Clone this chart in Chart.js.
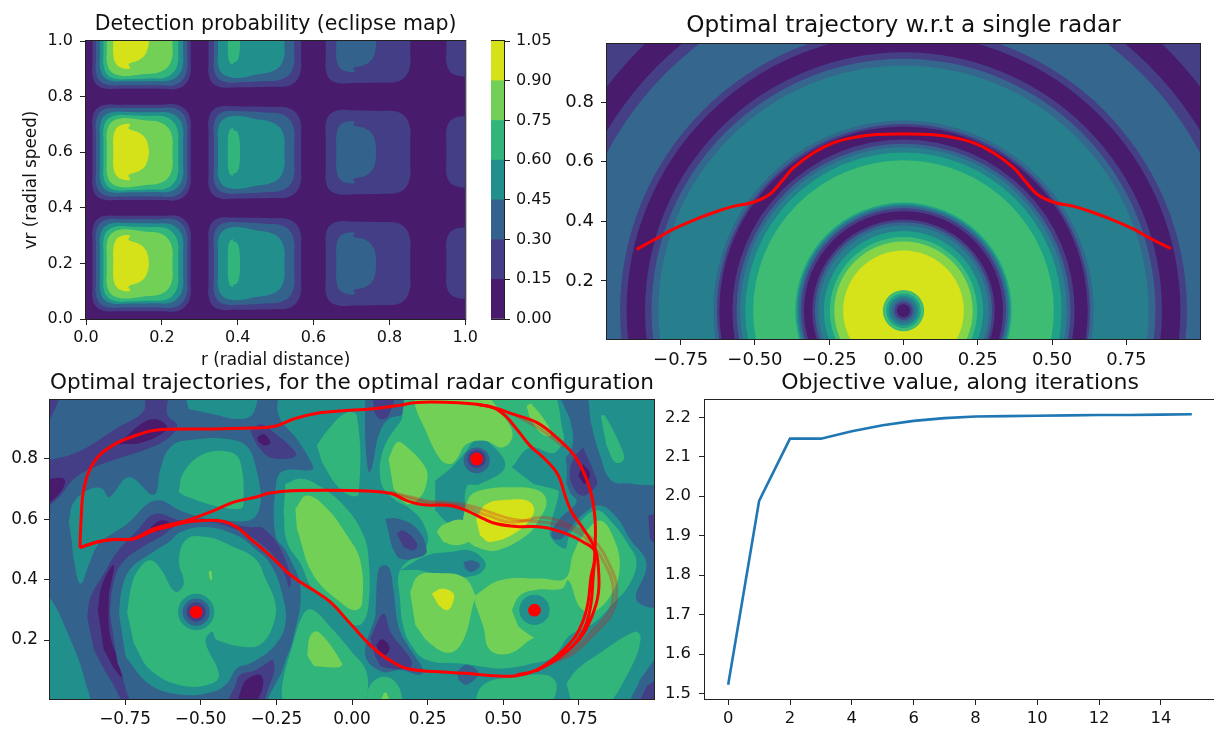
<!DOCTYPE html>
<html>
<head>
<meta charset="utf-8">
<title>Radar trajectories</title>
<script src="https://cdn.jsdelivr.net/npm/chart.js@4"></script>
<style>
    body { margin: 0; background: #fff; overflow: hidden; }
    canvas { position: absolute; }
</style>
</head>
<body>
<canvas id="eclipseMap"></canvas>
<canvas id="eclipseBar"></canvas>
<canvas id="singleRadar"></canvas>
<canvas id="radarConfig"></canvas>
<canvas id="objective"></canvas>
<script>
// Colours of the contour levels
const levelColors = ['#481b6d', '#433e85', '#33638d', '#21908d', '#31b57b', '#73d056', '#d5e21a'];
const ringColors = { d: '#481b6d', a: '#453f85', b: '#35668e', c: '#277f8e', e: '#1fa187', f: '#3fbc73', g: '#86d549', h: '#d6e21a' };

// Tick labels
const unitTicks = [0, 0.2, 0.4, 0.6, 0.8, 1];
const barTicks = [0, 0.15, 0.3, 0.45, 0.6, 0.75, 0.9, 1.05];
const xTicks = [-0.75, -0.5, -0.25, 0, 0.25, 0.5, 0.75];
const yTicksRadar = [0.2, 0.4, 0.6, 0.8];
const iterTicks = [0, 2, 4, 6, 8, 10, 12, 14];
const objectiveTicks = [1.5, 1.6, 1.7, 1.8, 1.9, 2.0, 2.1, 2.2];

// Objective value along iterations
const iterations = [0, 1, 2, 3, 4, 5, 6, 7, 8, 9, 10, 11, 12, 13, 14, 15];
const objectiveValues = [1.522, 1.988, 2.146, 2.146, 2.165, 2.18, 2.191, 2.198, 2.202, 2.203, 2.204, 2.205, 2.206, 2.206, 2.207, 2.208];

// Eclipse map cells: level, r from, r to, corner taper, then vr bands of the three rows
const eclipseCells = [
    [1, 0.017, 0.276, 0, [0.028, 0.371], [0.428, 0.771], [0.828, 1.171]],
    [2, 0.026, 0.267, 0, [0.041, 0.359], [0.441, 0.759], [0.841, 1.159]],
    [3, 0.037, 0.256, 0.003, [0.055, 0.345], [0.455, 0.745], [0.855, 1.145]],
    [4, 0.046, 0.243, 0.005, [0.063, 0.333], [0.463, 0.733], [0.863, 1.133]],
    [5, 0.055, 0.228, 0.012, [0.075, 0.321], [0.475, 0.721], [0.875, 1.121]],
    [6, 0.072, 0.165, 0.03, [0.102, 0.3], [0.502, 0.7], [0.902, 1.1]],
    [1, 0.323, 0.567, 0.005, [0.033, 0.365], [0.433, 0.765], [0.833, 1.165]],
    [2, 0.337, 0.549, 0.01, [0.051, 0.348], [0.451, 0.748], [0.851, 1.148]],
    [3, 0.348, 0.523, 0.02, [0.069, 0.329], [0.469, 0.729], [0.869, 1.129]],
    [4, 0.374, 0.406, 0.01, [0.117, 0.285], [0.517, 0.685], [0.917, 1.085]],
    [1, 0.632, 0.855, 0.005, [0.048, 0.351], [0.448, 0.751], [0.848, 1.151]],
    [2, 0.66, 0.764, 0.025, [0.09, 0.31], [0.49, 0.71], [0.89, 1.11]],
    [1, 0.95, 1.1, 0, [0.074, 0.328], [0.474, 0.728], [0.874, 1.128]]
];

// Single radar: rings around the radar, outermost first (radius, colour)
const radarCentre = [0, 0.1];
const ringRadii = [1.9, 1.251, 1.168, 1.131, 0.954, 0.932, 0.87, 0.848, 0.825, 0.64, 0.628, 0.62, 0.576, 0.562, 0.55, 0.5325, 0.506,
    0.364, 0.358, 0.352, 0.345, 0.335, 0.307, 0.298, 0.287, 0.268, 0.248, 0.233, 0.203, 0.0695, 0.058, 0.049, 0.039, 0.031, 0.022];
const ringLevels = ['a', 'd', 'a', 'b', 'a', 'd', 'a', 'b', 'c', 'b', 'a', 'd', 'a', 'b', 'c', 'e', 'f',
    'e', 'c', 'b', 'a', 'd', 'a', 'b', 'c', 'e', 'f', 'g', 'h', 'f', 'e', 'c', 'b', 'a', 'd'];
const singleTrajX = [-0.898, -0.83, -0.775, -0.696, -0.629, -0.573, -0.506, -0.45, -0.41, -0.371, -0.304, -0.2365, -0.158, -0.091, 0,
    0.091, 0.158, 0.2365, 0.304, 0.371, 0.41, 0.45, 0.506, 0.573, 0.629, 0.696, 0.775, 0.83, 0.9];
const singleTrajY = [0.306, 0.343, 0.3735, 0.408, 0.433, 0.45, 0.464, 0.491, 0.534, 0.579, 0.629, 0.663, 0.683, 0.691, 0.693,
    0.691, 0.683, 0.663, 0.629, 0.579, 0.534, 0.491, 0.464, 0.45, 0.433, 0.408, 0.3735, 0.343, 0.308];

// Optimal configuration map: contour regions in painting order (level, outline)
const configRegions = [
    [2, [[-1.5, -1], [1.5, -1], [1.5, 1.5], [-1.5, 1.5]]],
    [1, [[-1.03, 1.03], [-0.963, 1.03], [-1.03, 0.865]]],
    [1, [[-1.03, 0.79], [-0.908, 0.822], [-0.782, 0.899], [-0.688, 0.959], [-0.683, 1.03], [-0.611, 1.03], [-0.611, 0.948], [-0.578, 0.91], [-0.611, 0.866], [-0.677, 0.833], [-0.776, 0.8], [-0.853, 0.772], [-0.919, 0.734], [-0.963, 0.679], [-1.03, 0.62]]],
    [0, [[-1.03, 0.728], [-0.952, 0.734], [-0.963, 0.69], [-1.03, 0.63]]],
    [0, [[-0.77, 0.849], [-0.699, 0.915], [-0.65, 0.932], [-0.611, 0.904], [-0.65, 0.871], [-0.71, 0.849]]],
    [3, [[-0.556, 1.03], [-0.325, 1.03], [-0.325, 0.954], [-0.369, 0.932], [-0.457, 0.948], [-0.54, 0.965]]],
    [3, [[-0.936, 0.591], [-0.919, 0.657], [-0.864, 0.701], [-0.825, 0.701], [-0.803, 0.673], [-0.737, 0.739], [-0.655, 0.681], [-0.633, 0.767], [-0.605, 0.833], [-0.556, 0.86], [-0.38, 0.86], [-0.325, 0.8], [-0.316, 0.613], [-0.457, 0.6], [-0.556, 0.624], [-0.65, 0.662], [-0.743, 0.585], [-0.836, 0.519], [-0.864, 0.464], [-0.897, 0.387], [-0.919, 0.464], [-0.925, 0.52]]],
    [3, [[-1.03, 0.36], [-0.996, 0.3375], [-0.93, 0.2], [-0.886, 0.079], [-0.87, -0.03], [-0.963, -0.03], [-1.03, 0.05]]],
    [3, [[-0.242, 1.03], [-0.242, 0.943], [-0.182, 0.866], [-0.132, 0.783], [-0.132, 0.764], [-0.226, 0.761], [-0.25, 0.723], [-0.253, 0.547], [-0.215, 0.49], [-0.17, 0.37], [-0.193, 0.211], [-0.226, 0.112], [-0.264, -0.03], [1.03, -0.03], [1.03, 1.03]]],
    [2, [[0.676, 1.03], [0.764, 1.03], [0.792, 0.91], [0.82, 0.811], [0.858, 0.728], [0.929, 0.717], [1.03, 0.69], [1.03, 0.321], [0.94, 0.332], [0.973, 0.453], [0.918, 0.536], [0.874, 0.607], [0.82, 0.646], [0.765, 0.618], [0.72, 0.568], [0.693, 0.536], [0.665, 0.536], [0.66, 0.558], [0.687, 0.602], [0.742, 0.657], [0.72, 0.69], [0.693, 0.783], [0.72, 0.822], [0.731, 0.866], [0.72, 0.932]]],
    [2, [[0.044, 1.03], [0.044, 0.866], [0.055, 0.756], [0.066, 0.772], [0.088, 0.877], [0.121, 0.932], [0.176, 0.954], [0.176, 1.03]]],
    [1, [[0.066, 1.03], [0.137, 1.03], [0.121, 0.943], [0.093, 0.932], [0.074, 0.954]]],
    [2, [[0.082, 0.398], [0.093, 0.442], [0.121, 0.442], [0.137, 0.365], [0.154, 0.244], [0.187, 0.178], [0.236, 0.101], [0.225, 0.085], [0.159, 0.101], [0.099, 0.095], [0.044, 0.15], [0.077, 0.277]]],
    [2, [[0.998, 0.134], [1.03, -0.03], [0.918, -0.03], [0.951, 0.068]]],
    [1, [[0.979, 0.613], [1.03, 0.615], [1.03, 0.497], [0.984, 0.536]]],
    [1, [[1.03, 0.084], [1.03, -0.03], [0.946, -0.03], [0.973, 0.046]]],
    [1, [[0.764, 0.838], [0.808, 0.734], [0.808, 0.712], [0.764, 0.678], [0.731, 0.706], [0.72, 0.761], [0.737, 0.811]]],
    [0, [[0.764, 0.783], [0.786, 0.75], [0.77, 0.717], [0.748, 0.745]]],
    [1, [[-0.875, 0.277], [-0.864, 0.343], [-0.82, 0.42], [-0.776, 0.4915], [-0.71, 0.563], [-0.65, 0.618], [-0.567, 0.596], [-0.457, 0.5905], [-0.336, 0.574], [-0.292, 0.5685], [-0.231, 0.4915], [-0.204, 0.376], [-0.259, 0.398], [-0.314, 0.189], [-0.259, 0.1285], [-0.27, 0.057], [-0.325, -0.03], [-0.721, -0.03], [-0.798, 0.068], [-0.853, 0.167]]],
    [0, [[-0.84, 0.299], [-0.825, 0.387], [-0.787, 0.4475], [-0.804, 0.332], [-0.793, 0.189], [-0.737, 0.0735], [-0.77, 0.0845], [-0.82, 0.167]]],
    [0, [[-0.666, 0.574], [-0.633, 0.596], [-0.605, 0.591], [-0.616, 0.574], [-0.644, 0.558]]],
    [2, [[-0.8, 0.288], [-0.79, 0.38], [-0.76, 0.455], [-0.69, 0.51], [-0.62, 0.55], [-0.57, 0.585], [-0.479, 0.592], [-0.38, 0.565], [-0.31, 0.525], [-0.245, 0.46], [-0.205, 0.36], [-0.19, 0.255], [-0.23, 0.17], [-0.32, 0.1], [-0.37, 0.085], [-0.39, 0.04], [-0.44, -0.03], [-0.7, -0.03], [-0.775, 0.125]]],
    [3, [[-0.77, 0.288], [-0.76, 0.37], [-0.732, 0.4365], [-0.666, 0.486], [-0.605, 0.5245], [-0.567, 0.5575], [-0.479, 0.574], [-0.38, 0.5465], [-0.32, 0.5025], [-0.27, 0.453], [-0.231, 0.354], [-0.22, 0.255], [-0.259, 0.178], [-0.336, 0.123], [-0.38, 0.1065], [-0.413, 0.057], [-0.457, 0.0295], [-0.556, 0.0185], [-0.666, 0.0515], [-0.748, 0.145]]],
    [0, [[-0.385, -0.03], [-0.358, 0.057], [-0.336, 0.077], [-0.303, 0.0845], [-0.294, 0.0515], [-0.325, -0.03]]],
    [4, [[-0.743, 0.293], [-0.727, 0.387], [-0.699, 0.442], [-0.666, 0.464], [-0.633, 0.4365], [-0.584, 0.36], [-0.556, 0.387], [-0.572, 0.464], [-0.545, 0.5355], [-0.479, 0.541], [-0.402, 0.5135], [-0.32, 0.4695], [-0.286, 0.4035], [-0.253, 0.321], [-0.259, 0.255], [-0.292, 0.1945], [-0.336, 0.176], [-0.446, 0.2], [-0.462, 0.2275], [-0.484, 0.1945], [-0.44, 0.09], [-0.457, 0.059], [-0.556, 0.048], [-0.666, 0.101], [-0.721, 0.189]]],
    [5, [[-0.474, 0.4255], [-0.466, 0.431], [-0.463, 0.398], [-0.47, 0.4035]]],
    [4, [[-0.573, 0.69], [-0.556, 0.756], [-0.49, 0.816], [-0.402, 0.822], [-0.369, 0.789], [-0.358, 0.657], [-0.369, 0.635], [-0.457, 0.646], [-0.556, 0.679]]],
    [1, [[-0.336, 0.893], [-0.303, 0.915], [-0.259, 0.888], [-0.187, 0.822], [-0.193, 0.805], [-0.27, 0.805], [-0.314, 0.844]]],
    [0, [[-0.314, 0.871], [-0.292, 0.882], [-0.27, 0.855], [-0.286, 0.844], [-0.308, 0.855]]],
    [4, [[-0.22, 0.717], [-0.17, 0.734], [-0.11, 0.712], [-0.022, 0.64], [0.038, 0.547], [0.055, 0.464], [0.055, 0.321], [0.033, 0.255], [-0.006, 0.255], [-0.044, 0.304], [-0.127, 0.365], [-0.17, 0.453], [-0.215, 0.525], [-0.226, 0.624]]],
    [5, [[-0.187, 0.635], [-0.149, 0.679], [-0.082, 0.635], [-0.017, 0.547], [0.027, 0.464], [0.033, 0.321], [0.011, 0.299], [-0.033, 0.321], [-0.127, 0.414], [-0.182, 0.569]]],
    [4, [[-0.116, 0.844], [-0.082, 0.893], [-0.022, 0.951], [0.016, 0.943], [0.022, 0.684], [-0.006, 0.679], [-0.05, 0.712], [-0.099, 0.789]]],
    [4, [[-0.226, -0.03], [-0.231, 0.046], [-0.198, 0.178], [-0.16, 0.288], [-0.132, 0.301], [-0.072, 0.244], [-0.006, 0.167], [0.049, 0.09], [0.044, -0.03]]],
    [5, [[-0.148, 0.15], [-0.137, 0.216], [-0.11, 0.227], [-0.033, 0.123], [-0.044, 0.11], [-0.126, 0.114]]],
    [4, [[0.044, -0.03], [0.06, 0.051], [0.11, 0.079], [0.154, 0.046], [0.17, -0.03]]],
    [5, [[0.088, -0.03], [0.11, 0.027], [0.132, -0.03]]],
    [1, [[0.06, 0.205], [0.104, 0.288], [0.127, 0.227], [0.198, 0.118], [0.104, 0.11], [0.077, 0.145]]],
    [0, [[0.08, 0.184], [0.099, 0.203], [0.124, 0.176], [0.11, 0.15], [0.088, 0.161]]],
    [4, [[0.176, 1.03], [0.643, 1.03], [0.698, 0.888], [0.698, 0.844], [0.682, 0.679], [0.671, 0.635], [0.654, 0.569], [0.66, 0.536], [0.704, 0.503], [0.715, 0.536], [0.737, 0.574], [0.808, 0.629], [0.863, 0.585], [0.918, 0.508], [0.94, 0.4585], [0.918, 0.387], [0.863, 0.321], [0.797, 0.255], [0.72, 0.216], [0.665, 0.145], [0.6, 0.123], [0.5, 0.106], [0.434, 0.112], [0.374, 0.121], [0.247, 0.134], [0.192, 0.189], [0.17, 0.244], [0.159, 0.332], [0.159, 0.431], [0.247, 0.514], [0.236, 0.585], [0.192, 0.635], [0.137, 0.668], [0.096, 0.723], [0.104, 0.833], [0.165, 0.932]]],
    [3, [[0.159, 0.431], [0.247, 0.48], [0.324, 0.4915], [0.39, 0.497], [0.44, 0.4585], [0.429, 0.4255], [0.379, 0.409], [0.324, 0.411], [0.214, 0.433]]],
    [2, [[0.368, 0.4585], [0.396, 0.464], [0.423, 0.4475], [0.396, 0.4255], [0.374, 0.4365]]],
    [2, [[0.346, 0.095], [0.379, 0.118], [0.418, 0.09], [0.379, 0.052], [0.352, 0.068]]],
    [3, [[0.528, 0.772], [0.588, 0.838], [0.665, 0.819], [0.698, 0.844], [0.704, 0.69], [0.665, 0.701], [0.6, 0.717]]],
    [3, [[0.275, 0.728], [0.324, 0.767], [0.374, 0.821], [0.407, 0.86], [0.451, 0.855], [0.506, 0.775], [0.423, 0.717], [0.379, 0.709], [0.368, 0.596], [0.324, 0.585], [0.275, 0.629]]],
    [5, [[0.209, 1.03], [0.209, 0.976], [0.236, 0.91], [0.291, 0.8], [0.324, 0.783], [0.346, 0.8], [0.379, 0.849], [0.44, 0.86], [0.495, 0.838], [0.528, 0.866], [0.522, 0.91], [0.434, 1.03]]],
    [5, [[0.121, 0.8], [0.149, 0.855], [0.176, 0.844], [0.242, 0.772], [0.247, 0.723], [0.22, 0.667], [0.181, 0.651], [0.137, 0.701]]],
    [5, [[0.577, 0.976], [0.594, 0.981], [0.66, 0.888], [0.649, 0.874], [0.616, 0.893], [0.588, 0.932]]],
    [5, [[0.363, 0.58], [0.385, 0.668], [0.423, 0.695], [0.522, 0.706], [0.616, 0.695], [0.643, 0.657], [0.616, 0.596], [0.577, 0.547], [0.478, 0.497], [0.412, 0.508], [0.374, 0.535]]],
    [5, [[0.28, 0.558], [0.302, 0.582], [0.368, 0.596], [0.39, 0.535], [0.346, 0.514], [0.302, 0.525]]],
    [6, [[0.41, 0.602], [0.445, 0.651], [0.522, 0.665], [0.588, 0.657], [0.6, 0.618], [0.544, 0.558], [0.456, 0.525], [0.423, 0.547]]],
    [2, [[0.11, 0.602], [0.154, 0.602], [0.215, 0.569], [0.247, 0.497], [0.225, 0.475], [0.159, 0.47], [0.132, 0.508]]],
    [1, [[0.148, 0.552], [0.17, 0.563], [0.215, 0.519], [0.203, 0.497], [0.17, 0.508]]],
    [5, [[0.192, 0.36], [0.22, 0.414], [0.28, 0.422], [0.368, 0.409], [0.407, 0.348], [0.401, 0.321], [0.368, 0.2], [0.324, 0.158], [0.258, 0.189], [0.209, 0.25]]],
    [6, [[0.264, 0.354], [0.297, 0.37], [0.335, 0.354], [0.33, 0.315], [0.313, 0.299], [0.286, 0.315]]],
    [5, [[0.407, 0.348], [0.489, 0.398], [0.621, 0.404], [0.704, 0.404], [0.731, 0.486], [0.764, 0.547], [0.82, 0.596], [0.863, 0.541], [0.885, 0.442], [0.852, 0.343], [0.778, 0.277], [0.687, 0.228], [0.6, 0.206], [0.522, 0.156], [0.456, 0.167], [0.434, 0.244], [0.407, 0.321]]],
    [4, [[0.528, 0.299], [0.555, 0.348], [0.61, 0.367], [0.693, 0.37], [0.715, 0.398], [0.748, 0.315], [0.778, 0.277], [0.72, 0.222], [0.654, 0.189], [0.6, 0.209], [0.55, 0.244]]],
    [4, [[0.401, -0.03], [0.434, 0.052], [0.544, 0.079], [0.643, 0.084], [0.676, 0.052], [0.654, -0.03]]],
    [4, [[0.709, 0.057], [0.742, 0.101], [0.808, 0.15], [0.935, 0.228], [0.954, 0.205], [0.918, 0.101], [0.825, -0.03], [0.731, -0.03]]],
    [4, [[0.822, 0.943], [0.836, 0.943], [0.896, 0.822], [0.896, 0.794], [0.869, 0.789], [0.841, 0.844]]]
];

// Wells around the radars (level, x, y, radius)
const radarWells = [
    [3, -0.515, 0.293, 0.06], [2, -0.515, 0.293, 0.045], [1, -0.515, 0.293, 0.032],
    [2, 0.412, 0.795, 0.043], [1, 0.412, 0.8, 0.03],
    [3, 0.603, 0.3, 0.05]
];
const radarX = [-0.515, 0.412, 0.603];
const radarY = [0.293, 0.8, 0.299];

// Trajectories on the configuration map
const outerTraj = [[-0.899, 0.506], [-0.895, 0.602], [-0.886, 0.701], [-0.853, 0.789], [-0.792, 0.844], [-0.71, 0.879], [-0.65, 0.895], [-0.479, 0.899], [-0.336, 0.902], [-0.259, 0.907], [-0.193, 0.932], [-0.116, 0.951], [-0.006, 0.961], [0.06, 0.965], [0.148, 0.976], [0.214, 0.987], [0.324, 0.987], [0.412, 0.981], [0.478, 0.967], [0.533, 0.948], [0.61, 0.921], [0.676, 0.871], [0.742, 0.8], [0.786, 0.701], [0.803, 0.602], [0.803, 0.503], [0.797, 0.409], [0.786, 0.299], [0.753, 0.211], [0.687, 0.145], [0.61, 0.101], [0.544, 0.082], [0.467, 0.082], [0.379, 0.09], [0.324, 0.093], [0.181, 0.106], [0.115, 0.1395], [0.06, 0.1835], [-0.006, 0.255], [-0.072, 0.3265], [-0.127, 0.365], [-0.171, 0.3925], [-0.215, 0.4255], [-0.248, 0.4585], [-0.303, 0.508], [-0.336, 0.5356], [-0.38, 0.574], [-0.424, 0.593], [-0.49, 0.596], [-0.545, 0.591], [-0.611, 0.574], [-0.655, 0.563], [-0.721, 0.5356], [-0.787, 0.533], [-0.842, 0.525], [-0.899, 0.506]];
const middleTraj = [[-0.899, 0.506], [-0.842, 0.525], [-0.787, 0.533], [-0.721, 0.5356], [-0.655, 0.569], [-0.545, 0.596], [-0.457, 0.629], [-0.391, 0.657], [-0.32, 0.673], [-0.27, 0.687], [-0.171, 0.695], [-0.006, 0.695], [0.126, 0.686], [0.181, 0.662], [0.236, 0.648], [0.324, 0.646], [0.379, 0.629], [0.434, 0.602], [0.478, 0.585], [0.544, 0.576], [0.632, 0.574], [0.709, 0.552], [0.764, 0.525], [0.803, 0.492], [0.79, 0.41], [0.775, 0.3], [0.74, 0.215], [0.68, 0.15], [0.61, 0.101], [0.544, 0.085]];
const upperTraj = [[0.412, 0.981], [0.467, 0.97], [0.506, 0.943], [0.544, 0.899], [0.588, 0.844], [0.643, 0.794], [0.682, 0.745], [0.704, 0.679], [0.726, 0.624], [0.764, 0.569], [0.803, 0.503], [0.814, 0.442], [0.814, 0.354], [0.792, 0.277], [0.753, 0.205], [0.68, 0.14], [0.61, 0.098]];
const fadedTrajs = [
    [[0.126, 0.69], [0.19, 0.675], [0.25, 0.66], [0.324, 0.655], [0.39, 0.645], [0.45, 0.625], [0.53, 0.6], [0.632, 0.59], [0.709, 0.574], [0.786, 0.525], [0.841, 0.442], [0.863, 0.376], [0.852, 0.299], [0.797, 0.233], [0.731, 0.167], [0.654, 0.123]],
    [[0.126, 0.688], [0.19, 0.67], [0.25, 0.655], [0.324, 0.65], [0.39, 0.635], [0.45, 0.612], [0.53, 0.59], [0.632, 0.606], [0.72, 0.58], [0.8, 0.53], [0.855, 0.44], [0.875, 0.37], [0.86, 0.29], [0.8, 0.22], [0.73, 0.155], [0.654, 0.123]],
    [[0.533, 0.948], [0.62, 0.9], [0.7, 0.84]]
];

const FONT = '"DejaVu Sans"';

function xy(points) {
    return points.map(([x, y]) => ({ x, y }));
}

function contour(color, points) {
    return { data: xy(points), fill: 'shape', backgroundColor: color, borderWidth: 0, pointRadius: 0, tension: 0.4 };
}

// Outline of a cell from its box, right corners pulled in by the taper
function cellOutline(x0, x1, y0, y1, taper) {
    const cx = Math.min(0.04, (x1 - x0) * 0.3);
    const cy = Math.min(0.055, (y1 - y0) * 0.3);
    const t1 = y1 - taper;
    const t0 = y0 + taper;
    const mid = (y0 + y1) / 2;
    return [[x0, mid],
        [x0, y1 - 1.6 * cy], [x0, y1 - 0.9 * cy], [x0 + 0.27 * cx, y1 - 0.27 * cy], [x0 + 0.9 * cx, y1], [x0 + 1.6 * cx, y1],
        [x1 - 1.9 * cx, y1 - taper * 0.5], [x1 - 0.9 * cx, t1], [x1 - 0.27 * cx, t1 - 0.4 * cy], [x1, t1 - 1.1 * cy], [x1, t1 - 1.8 * cy],
        [x1, t0 + 1.8 * cy], [x1, t0 + 1.1 * cy], [x1 - 0.27 * cx, t0 + 0.4 * cy], [x1 - 0.9 * cx, t0], [x1 - 1.9 * cx, y0 + taper * 0.5],
        [x0 + 1.6 * cx, y0], [x0 + 0.9 * cx, y0], [x0 + 0.27 * cx, y0 + 0.27 * cy], [x0, y0 + 0.9 * cy], [x0, y0 + 1.6 * cy],
        [x0, mid]];
}

// A disc whose radius is given in x units of the chart
function disc(color, x, y, r) {
    return {
        data: [{ x, y, r }], showLine: false, clip: 0, pointBorderWidth: 0, pointBackgroundColor: color,
        pointRadius: ctx => {
            const sx = ctx.chart.scales.x;
            return Math.abs(sx.getPixelForValue(ctx.raw.r) - sx.getPixelForValue(0));
        }
    };
}

function trajLine(points, color, width) {
    return { data: xy(points), borderColor: color, borderWidth: width, pointRadius: 0, tension: 0.4, fill: false, clip: 0 };
}

const frame = {
    id: 'frame',
    afterDatasetsDraw(chart) {
        const a = chart.chartArea, ctx = chart.ctx;
        ctx.save();
        ctx.strokeStyle = '#222';
        ctx.lineWidth = 1;
        ctx.strokeRect(a.left - 0.5, a.top - 0.5, a.width + 1, a.height + 1);
        ctx.restore();
    }
};

function axis(opts) {
    const ticks = opts.values;
    const scale = {
        type: 'linear',
        position: opts.position,
        min: opts.min,
        max: opts.max,
        grid: { drawOnChartArea: false, drawTicks: true, tickLength: 6, color: '#222' },
        border: { display: false },
        ticks: {
            autoSkip: false, maxRotation: 0, minRotation: 0, color: '#111', padding: opts.padding,
            font: { family: FONT, size: opts.size },
            callback: v => v.toFixed(opts.digits).replace('-', '\u2212')
        },
        afterBuildTicks: s => { s.ticks = ticks.map(value => ({ value })); },
        afterFit: s => {
            if (s.isHorizontal()) s.height = opts.space; else s.width = opts.space;
        }
    };
    if (opts.title) {
        scale.title = { display: true, text: opts.title, color: '#111', padding: { top: 0, bottom: opts.titlePad }, font: { family: FONT, size: opts.titleSize } };
    }
    return scale;
}

// Pins the plot area of a chart to a place on the page
function makeChart(id, area, margins, config) {
    const canvas = document.getElementById(id);
    canvas.width = margins.left + area.w + margins.right;
    canvas.height = margins.top + area.h + margins.bottom;
    canvas.style.left = (area.x - margins.left) + 'px';
    canvas.style.top = (area.y - margins.top) + 'px';
    const plugins = { legend: { display: false }, tooltip: { enabled: false } };
    if (config.title) {
        plugins.title = {
            display: true, text: config.title.text, color: '#111', fullSize: false,
            padding: { top: 0, bottom: margins.top - config.title.line },
            font: { family: FONT, size: config.title.size, lineHeight: config.title.line + 'px', weight: 'normal' }
        };
    }
    const rightPad = config.rightAxis ? 0 : margins.right;
    return new Chart(canvas, {
        type: config.type || 'line',
        data: { labels: config.labels, datasets: config.datasets },
        plugins: [frame],
        options: {
            responsive: false, animation: false, events: [],
            layout: {
                autoPadding: false,
                padding: { right: rightPad, top: config.title ? 0 : margins.top, bottom: config.rightAxis ? margins.bottom : 0 }
            },
            elements: { line: { capBezierPoints: false } },
            plugins,
            scales: config.scales
        }
    });
}

// Detection probability
const eclipseSets = [contour(levelColors[0], [[-1, -1], [2, -1], [2, 2], [-1, 2]])];
eclipseCells.forEach(([level, x0, x1, taper, ...rows]) => {
    rows.forEach(([y0, y1]) => eclipseSets.push(contour(levelColors[level], cellOutline(x0, x1, y0, y1, taper))));
});
makeChart('eclipseMap', { x: 86, y: 41, w: 380, h: 278 }, { left: 64, right: 15, top: 27, bottom: 52 }, {
    title: { text: 'Detection probability (eclipse map)', size: 20.5, line: 22 },
    datasets: eclipseSets.reverse(),
    scales: {
        x: axis({ position: 'bottom', min: 0, max: 1, values: unitTicks, digits: 1, size: 16, padding: 3, space: 52, title: 'r (radial distance)', titleSize: 16.8, titlePad: 0 }),
        y: axis({ position: 'left', min: 0, max: 1, values: unitTicks, digits: 1, size: 16, padding: 7, space: 64, title: 'vr (radial speed)', titleSize: 16.8, titlePad: 1 })
    }
});

// Colour bar
makeChart('eclipseBar', { x: 491, y: 41, w: 13, h: 278 }, { left: 0, right: 62, top: 16, bottom: 16 }, {
    type: 'bar',
    rightAxis: true,
    labels: [''],
    datasets: levelColors.map(color => ({ data: [0.15], backgroundColor: color, barPercentage: 1, categoryPercentage: 1 })),
    scales: {
        x: { display: false, stacked: true },
        y: Object.assign(axis({ position: 'right', min: 0, max: 1.05, values: barTicks, digits: 2, size: 16, padding: 6, space: 62 }), { stacked: true })
    }
});

// Single radar
const ringSets = ringRadii.map((r, i) => disc(ringColors[ringLevels[i]], radarCentre[0], radarCentre[1], r));
const singleTraj = singleTrajX.map((x, i) => [x, singleTrajY[i]]);
makeChart('singleRadar', { x: 607, y: 44, w: 593, h: 295 }, { left: 50, right: 14, top: 31, bottom: 32 }, {
    title: { text: 'Optimal trajectory w.r.t a single radar', size: 23.2, line: 26 },
    datasets: ringSets.concat([trajLine(singleTraj, '#ff0000', 3)]).reverse(),
    scales: {
        x: axis({ position: 'bottom', min: -0.998, max: 0.998, values: xTicks, digits: 2, size: 18, padding: 5, space: 32 }),
        y: axis({ position: 'left', min: 0.005, max: 0.995, values: yTicksRadar, digits: 1, size: 18, padding: 7, space: 50 })
    }
});

// Optimal radar configuration
const configSets = configRegions.map(([level, points]) => contour(levelColors[level], points));
radarWells.forEach(([level, x, y, r]) => configSets.push(disc(levelColors[level], x, y, r)));
fadedTrajs.forEach(points => configSets.push(trajLine(points, 'rgba(220, 20, 20, 0.3)', 3)));
[outerTraj, middleTraj, upperTraj].forEach(points => configSets.push(trajLine(points, '#ff0000', 3)));
radarX.forEach((x, i) => configSets.push(disc('#ff0000', x, radarY[i], 0.021)));
makeChart('radarConfig', { x: 50, y: 400, w: 604, h: 299 }, { left: 45, right: 3, top: 29, bottom: 30 }, {
    title: { text: 'Optimal trajectories, for the optimal radar configuration', size: 21.7, line: 24 },
    datasets: configSets.reverse(),
    scales: {
        x: axis({ position: 'bottom', min: -0.998, max: 0.998, values: xTicks, digits: 2, size: 16.9, padding: 4, space: 30 }),
        y: axis({ position: 'left', min: 0.005, max: 0.995, values: yTicksRadar, digits: 1, size: 16.9, padding: 6, space: 45 })
    }
});

// Objective value
makeChart('objective', { x: 705, y: 400, w: 510, h: 299 }, { left: 48, right: 1, top: 29, bottom: 30 }, {
    title: { text: 'Objective value, along iterations', size: 22, line: 24 },
    datasets: [{
        data: xy(iterations.map((it, i) => [it, objectiveValues[i]])),
        borderColor: '#1f77b4', borderWidth: 2.6, pointRadius: 0, tension: 0, fill: false
    }],
    scales: {
        x: axis({ position: 'bottom', min: -0.75, max: 15.75, values: iterTicks, digits: 0, size: 16.4, padding: 4, space: 30 }),
        y: axis({ position: 'left', min: 1.486, max: 2.244, values: objectiveTicks, digits: 1, size: 16.4, padding: 8, space: 48 })
    }
});
</script>
</body>
</html>
